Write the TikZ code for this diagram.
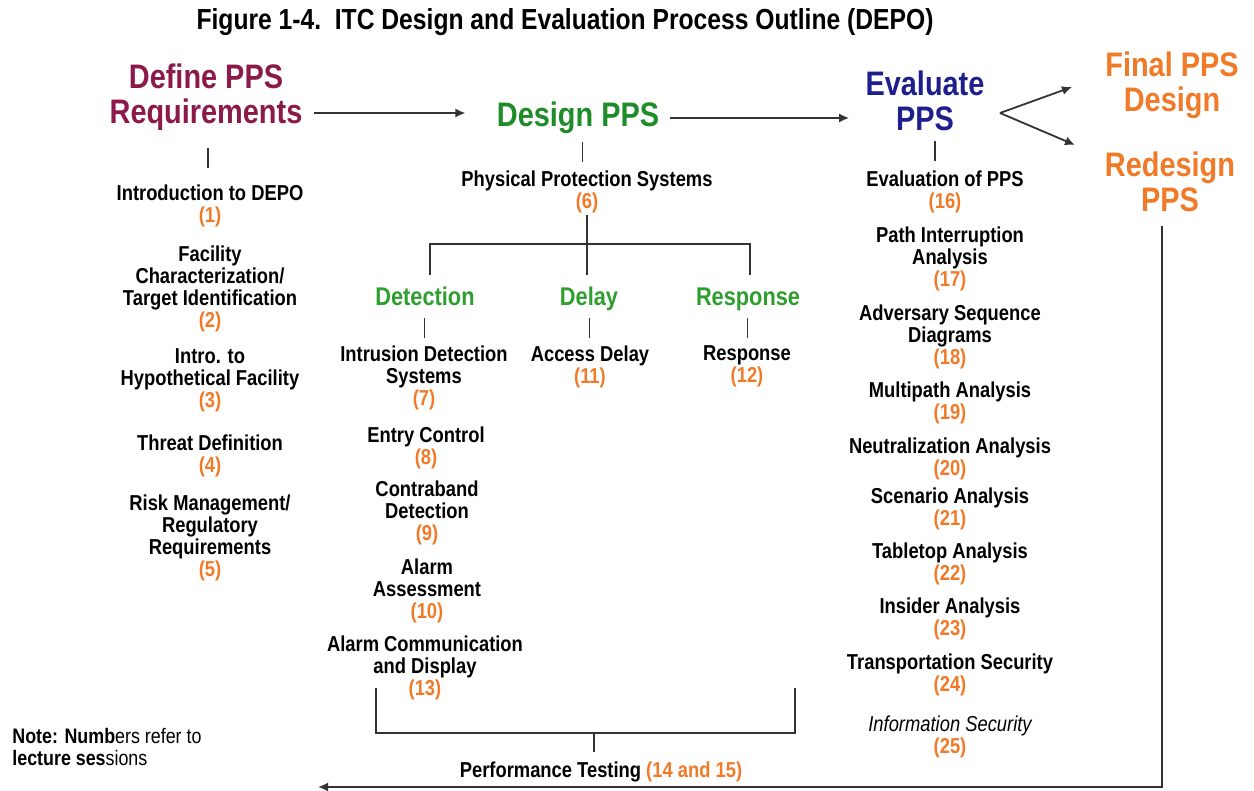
\documentclass[tikz,border=0pt]{standalone}
\usepackage{fontspec}
\setmainfont{Liberation Sans}[FakeStretch=0.85]
\usetikzlibrary{arrows.meta,calc}
\definecolor{maroonc}{HTML}{8B1A4B}
\definecolor{greenc}{HTML}{1E8C28}
\definecolor{greenl}{HTML}{2E9E2E}
\definecolor{bluec}{HTML}{1E1E8C}
\definecolor{orangec}{HTML}{F07A28}
\definecolor{linec}{HTML}{333333}
\newcommand{\nm}[1]{\textcolor{orangec}{#1}}
\begin{document}
\begin{tikzpicture}[x=0.5pt,y=-0.5pt,
 head/.style={font=\fontsize{17}{17.5}\selectfont\bfseries, align=center, inner sep=0pt},
 sub/.style={font=\fontsize{12.8}{14}\selectfont\bfseries, text=greenl, inner sep=0pt, text height=9.5pt, text depth=2.5pt},
 item/.style={font=\fontsize{10.8}{11}\selectfont\bfseries, align=center, inner sep=0pt, text=black},
 conn/.style={draw=linec, line width=0.9pt},
 arr/.style={conn, -{Latex[length=5pt,width=4.5pt]}},
 stub/.style={conn, to path={($(\tikztostart)!.5!(\tikztotarget)+(0,-#1)$) -- ($(\tikztostart)!.5!(\tikztotarget)+(0,#1)$)}},
]
\useasboundingbox (0,0) rectangle (1254,791);

% title
\node[font=\fontsize{14.5}{16}\selectfont\bfseries, inner sep=0pt] (title) at (565,22) {Figure 1-4.\ \ ITC Design and Evaluation Process Outline (DEPO)};

% headings
\node[head,text=maroonc] (def) at (206,97) {Define PPS\\Requirements};
\node[head,text=greenc] (des) at (578,118) {Design PPS};
\node[head,text=bluec] (ev) at (925,101) {Evaluate\\PPS};
\node[head,text=orangec] (fin) at (1172,85) {Final PPS\\Design};
\node[head,text=orangec] (redes) at (1170,182) {Redesign\\PPS};

% left column
\node[item] (l1) at (210,206) {Introduction to DEPO\\\nm{(1)}};
\node[item] (l2) at (210,288.5) {Facility\\Characterization/\\Target Identification\\\nm{(2)}};
\node[item] (l3) at (210,380.5) {Intro. to\\Hypothetical Facility\\\nm{(3)}};
\node[item] (l4) at (210,456) {Threat Definition\\\nm{(4)}};
\node[item] (l5) at (210,537.5) {Risk Management/\\Regulatory\\Requirements\\\nm{(5)}};

% middle column
\node[item] (pps) at (587,191.5) {Physical Protection Systems\\\nm{(6)}};
\node[sub] (det) at (425,299) {Detection};
\node[sub] (del) at (589,299) {Delay};
\node[sub] (resp) at (748,299) {Response};
\node[item] (ids) at (424,377.5) {Intrusion Detection\\Systems\\\nm{(7)}};
\node[item] (acc) at (590,366.5) {Access Delay\\\nm{(11)}};
\node[item] (rsp) at (747,366.5) {Response\\\nm{(12)}};
\node[item] (ent) at (426,447.5) {Entry Control\\\nm{(8)}};
\node[item] (con) at (427,512.5) {Contraband\\Detection\\\nm{(9)}};
\node[item] (alm) at (427,591) {Alarm\\Assessment\\\nm{(10)}};
\node[item] (acd) at (425,667.5) {Alarm Communication\\and Display\\\nm{(13)}};
\node[item] (perf) at (601,772) {Performance Testing \nm{(14 and 15)}};

% right column
\node[item] (e16) at (945,192) {Evaluation of PPS\\\nm{(16)}};
\node[item] (e17) at (950,259) {Path Interruption\\Analysis\\\nm{(17)}};
\node[item] (e18) at (950,336.5) {Adversary Sequence\\Diagrams\\\nm{(18)}};
\node[item] (e19) at (950,403) {Multipath Analysis\\\nm{(19)}};
\node[item] (e20) at (950,459) {Neutralization Analysis\\\nm{(20)}};
\node[item] (e21) at (950,508.5) {Scenario Analysis\\\nm{(21)}};
\node[item] (e22) at (950,563.5) {Tabletop Analysis\\\nm{(22)}};
\node[item] (e23) at (950,618.5) {Insider Analysis\\\nm{(23)}};
\node[item] (e24) at (950,675) {Transportation Security\\\nm{(24)}};
\node[item] (e25) at (950,736.5) {{\mdseries\itshape Information Security}\\\nm{(25)}};

% note
\node[anchor=west, align=left, inner sep=0pt, font=\fontsize{10.5}{11}\selectfont] (note) at (12,747) {\textbf{Note: Numb}ers refer to\\\textbf{lecture ses}sions};

% main flow arrows
\draw[arr, shorten <=5.5pt, shorten >=15.5pt] ([yshift=2.5pt]def.east |- des.west) -- ([yshift=2.5pt]des.west);
\draw[arr, shorten <=5pt, shorten >=8pt] (des.east) -- (ev.west |- des.east);
\coordinate (fork) at (1000,113);
\coordinate (finin) at (1072,87);
\coordinate (redin) at (1075,145);
\draw[arr] (fork) -- (finin);
\draw[arr] (fork) -- (redin);

% stubs
\draw[stub=10] (def.south) to (l1.north);
\draw[stub=10] (des.south) to (pps.north);
\draw[stub=10] (ev.south) to (e16.north);
\draw[stub=10] (det.south) to (ids.north);
\draw[stub=10] (del.south) to (acc.north);
\draw[stub=10] (resp.south) to (rsp.north);

% tree
\coordinate (bar) at (587,244);
\draw[conn, shorten <=1pt, shorten >=6pt] (pps.south) -- (pps.south |- del.north);
\draw[conn] ([shift={(5,-12)}]det.north) |- (bar) -| ([shift={(2,-12)}]resp.north);

% bracket to performance testing
\coordinate (bl) at (376,688);
\coordinate (br) at (795,688);
\coordinate (bm) at (594,733);
\draw[conn] (bl) |- (bm) -| (br);
\draw[conn, shorten >=4.5pt] (bm) -- (bm |- perf.north);

% return loop
\coordinate (ret) at (318,787);
\draw[arr] ([shift={(-8,14)}]redes.south) |- (ret);
\end{tikzpicture}
\end{document}
